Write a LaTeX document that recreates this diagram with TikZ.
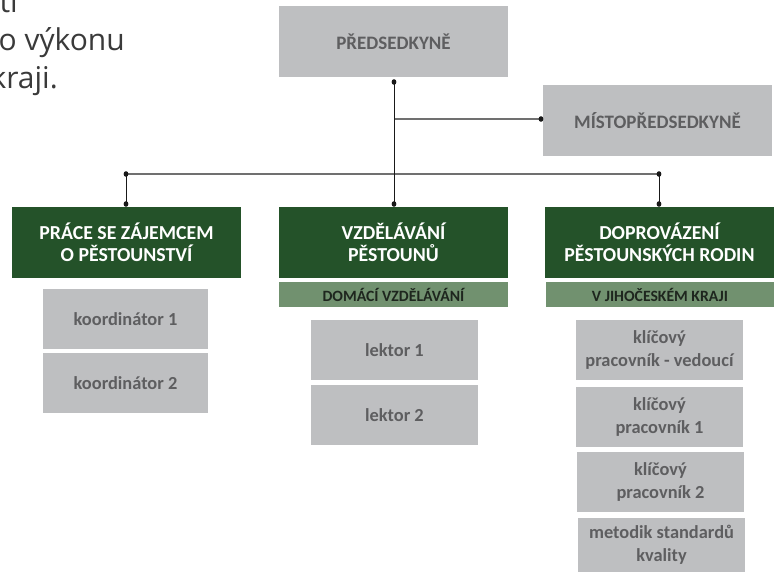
\documentclass[tikz,border=0pt]{standalone}
\usepackage{fontspec}
\setmainfont{Carlito}
\newfontfamily\opensans{Open Sans}
\definecolor{boxgray}{HTML}{BEBFC1}
\definecolor{txtgray}{HTML}{5E5E60}
\definecolor{dkgreen}{HTML}{245229}
\definecolor{ltgreen}{HTML}{71916F}
\definecolor{subtxt}{HTML}{1E261E}
\definecolor{introtxt}{HTML}{3A3A3A}
\definecolor{busgray}{HTML}{707070}
\begin{document}
\begin{tikzpicture}[x=1pt,y=-1pt,
  headbox/.style={fill=boxgray, text=txtgray, font=\bfseries\fontsize{19}{22}\selectfont,
    align=center, inner sep=0pt, minimum width=229pt, minimum height=71pt},
  greenbox/.style={fill=dkgreen, text=white, font=\bfseries\fontsize{19.8}{22.5}\selectfont,
    align=center, inner sep=0pt, minimum width=229pt, minimum height=71pt},
  subbar/.style={fill=ltgreen, text=subtxt, font=\bfseries\fontsize{15.7}{18}\selectfont,
    align=center, inner sep=0pt, minimum width=229pt, minimum height=25pt},
  graybox/.style={fill=boxgray, text=txtgray, font=\bfseries\fontsize{18.4}{23.5}\selectfont,
    align=center, inner sep=0pt, minimum width=167pt, minimum height=60pt},
  conn/.style={draw=black!90, line width=1pt},
  bus/.style={draw=busgray, line width=1.4pt},
  dotmark/.style={fill=black!90},
  intro/.style={font=\opensans\fontsize{30}{38}\selectfont, text=introtxt, inner sep=0pt, anchor=base east}
]
\clip (0,0) rectangle (774,573);
\fill[white] (0,0) rectangle (774,573);

% intro text (cut at the left edge, as in the reference)
\node[intro] (t1) at (18,12) {eti};
\node[intro] (t2) at (125,50) {o výkonu};
\node[intro] (t3) at (58,88) {kraji.};

% boxes
\node[headbox] (pred) at (393.5,41.5) {PŘEDSEDKYNĚ};
\node[headbox] (mist) at (657.5,120.5) {MÍSTOPŘEDSEDKYNĚ};

\node[greenbox] (g1) at (126.5,242.5) {PRÁCE SE ZÁJEMCEM\\O PĚSTOUNSTVÍ};
\node[greenbox] (g2) at (393.5,242.5) {VZDĚLÁVÁNÍ\\PĚSTOUNŮ};
\node[greenbox] (g3) at (659.5,242.5) {DOPROVÁZENÍ\\PĚSTOUNSKÝCH RODIN};

\node[subbar] (s2) at (393.5,294.5) {DOMÁCÍ VZDĚLÁVÁNÍ};
\node[subbar, minimum width=228pt] (s3) at (660,294.5) {V JIHOČESKÉM KRAJI};

\node[graybox, minimum width=165pt] (k1) at (125.5,319) {koordinátor 1};
\node[graybox, minimum width=165pt] (k2) at (125.5,383) {koordinátor 2};

\node[graybox] (l1) at (394.5,350) {lektor 1};
\node[graybox] (l2) at (394.5,415) {lektor 2};

\node[graybox] (r1) at (659.5,350) {klíčový\\pracovník - vedoucí};
\node[graybox] (r2) at (659.5,417) {klíčový\\pracovník 1};
\node[graybox] (r3) at (660.5,482) {klíčový\\pracovník 2};
\node[graybox, minimum height=54pt] (r4) at (661.5,545) {metodik standardů\\kvality};

% connector points
\coordinate (ptop) at (394,82);
\coordinate (pbot) at (394,204);
\coordinate (mj) at (394,119);
\coordinate (mend) at (541,119);
\coordinate (bl) at (126,174);
\coordinate (br) at (659,174);
\coordinate (blb) at (126,204);
\coordinate (brb) at (659,204);

% connectors
\draw[bus] (mj) -- (mend);
\draw[bus] (bl) -- (br);
\draw[conn] (ptop) -- (pbot);
\draw[conn] (bl) -- (blb);
\draw[conn] (br) -- (brb);

% dots
\foreach \p in {ptop,pbot,mend,bl,br,blb,brb}
  \fill[dotmark] (\p) ellipse (2.4pt and 2.8pt);
\end{tikzpicture}
\end{document}
